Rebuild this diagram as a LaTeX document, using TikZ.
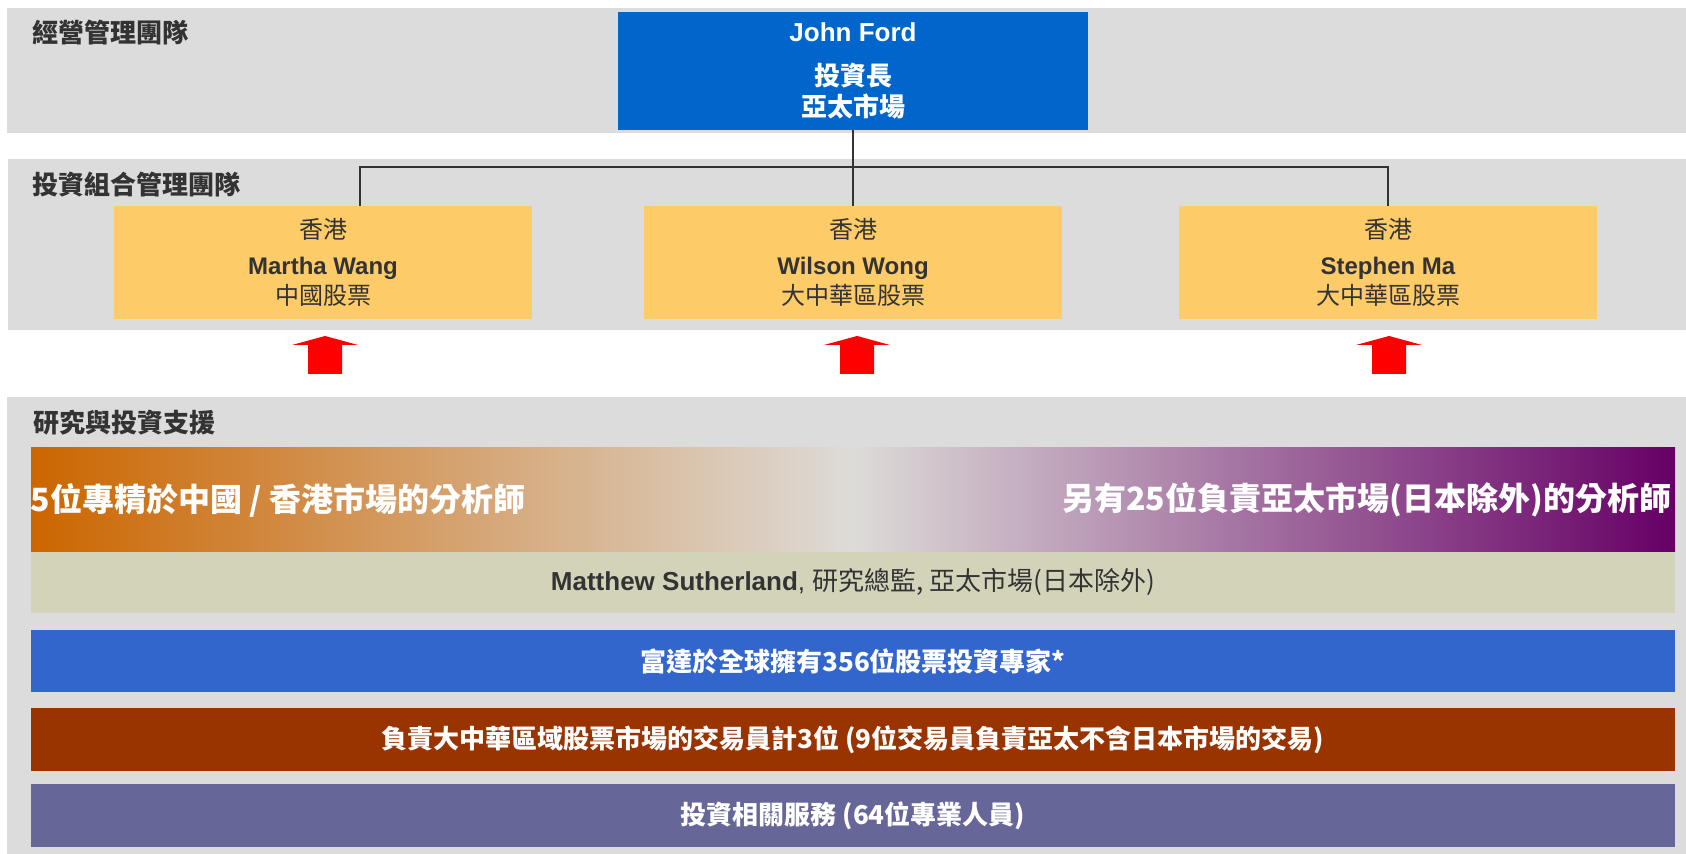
\documentclass[tikz,border=0pt]{standalone}
\usepackage{fontspec}
\setmainfont{Liberation Sans}
\newfontfamily\cjk{Noto Sans CJK TC}

\definecolor{bandgray}{HTML}{DCDCDC}
\definecolor{textgray}{HTML}{333333}
\definecolor{ceoblue}{HTML}{0066CC}
\definecolor{pmyellow}{HTML}{FECB69}
\definecolor{gradorange}{HTML}{CC6600}
\definecolor{gradmid}{HTML}{DDDBD8}
\definecolor{gradpurple}{HTML}{660066}
\definecolor{khaki}{HTML}{D3D3BA}
\definecolor{globalblue}{HTML}{3366CC}
\definecolor{tradebrown}{HTML}{993300}
\definecolor{servpurple}{HTML}{666699}

\tikzset{
  band/.style={fill=bandgray},
  bandlabel/.style={anchor=west, inner sep=0pt, text=textgray, font=\cjk\bfseries\fontsize{13}{15}\selectfont},
  ceobox/.style={fill=ceoblue, text=white, minimum width=235pt, minimum height=59pt, align=center, font=\bfseries\fontsize{13}{15.5}\selectfont},
  pmbox/.style={fill=pmyellow, text=textgray, minimum width=209pt, minimum height=56.5pt, align=center, font=\fontsize{12}{14}\selectfont},
  bar/.style={minimum width=822pt, inner sep=0pt, text=white, font=\cjk\bfseries\fontsize{13}{15}\selectfont},
  gradtext/.style={inner sep=0pt, text=white, font=\cjk\bfseries\fontsize{16}{18}\selectfont},
  link/.style={draw=textgray, line width=1pt},
  uparrow/.style={fill=red},
}

\begin{document}
\begin{tikzpicture}[x=0.5pt,y=-0.5pt]
    \useasboundingbox (0,0) rectangle (1686,854);
    % Bandas de fondo
    \fill[band] (7,8) rectangle (1686,133);
    \fill[band] (8,159) rectangle (1686,330);
    \fill[band] (7,397) rectangle (1686,854);
    \node[bandlabel] (mgmt) at (32,33) {經營管理團隊};
    \node[bandlabel] (pmteam) at (32,185) {投資組合管理團隊};
    \node[bandlabel] (research) at (33,423) {研究與投資支援};
    % Jefe
    \node[ceobox] (ceo) at (853,71) {John Ford\\[6.5pt]{\cjk 投資長}\\{\cjk 亞太市場}};
    % Gestores
    \node[pmbox] (martha) at (323,262.5) {{\cjk 香港}\\[3.6pt]\textbf{Martha Wang}\\[1pt]{\cjk 中國股票}};
    \node[pmbox] (wilson) at (853,262.5) {{\cjk 香港}\\[3.6pt]\textbf{Wilson Wong}\\[1pt]{\cjk 大中華區股票}};
    \node[pmbox] (stephen) at (1388,262.5) {{\cjk 香港}\\[3.6pt]\textbf{Stephen Ma}\\[1pt]{\cjk 大中華區股票}};
    % Conexiones
    \coordinate (bus) at (853,167);
    \draw[link] (ceo.south) -- (wilson.north);
    \draw[link] ([xshift=18.5pt]martha.north) |- (bus) -| (stephen.north);
    % Flechas rojas
    \foreach \ax in {325,857,1389}
        \fill[uparrow] (\ax-17,374) -- (\ax-17,345) -- (\ax-33,345) -- (\ax,336)
            -- (\ax+33,345) -- (\ax+17,345) -- (\ax+17,374) -- cycle;
    % Barras de apoyo
    \node[bar, minimum height=52pt, left color=gradorange, right color=gradpurple, middle color=gradmid] (analysts) at (853,500) {};
    \node[gradtext, anchor=west] (hkteam) at (analysts.west) {5位專精於中國 / 香港市場的分析師};
    \node[gradtext, anchor=east] (apteam) at ([xshift=-2pt]analysts.east) {另有25位負責亞太市場(日本除外)的分析師};
    \node[bar, fill=khaki, minimum height=30.5pt, text=textgray, font=\fontsize{13}{15}\selectfont] (director) at (853,582.5)
        {\textbf{Matthew Sutherland}, {\cjk 研究總監, 亞太市場(日本除外)}};
    \node[bar, fill=globalblue, minimum height=31pt] (global) at (853,661) {富達於全球擁有356位股票投資專家*};
    \node[bar, fill=tradebrown, minimum height=31.5pt] (traders) at (853,739.5) {負責大中華區域股票市場的交易員計3位 (9位交易員負責亞太不含日本市場的交易)};
    \node[bar, fill=servpurple, minimum height=31.5pt] (services) at (853,815.5) {投資相關服務 (64位專業人員)};
\end{tikzpicture}
\end{document}
